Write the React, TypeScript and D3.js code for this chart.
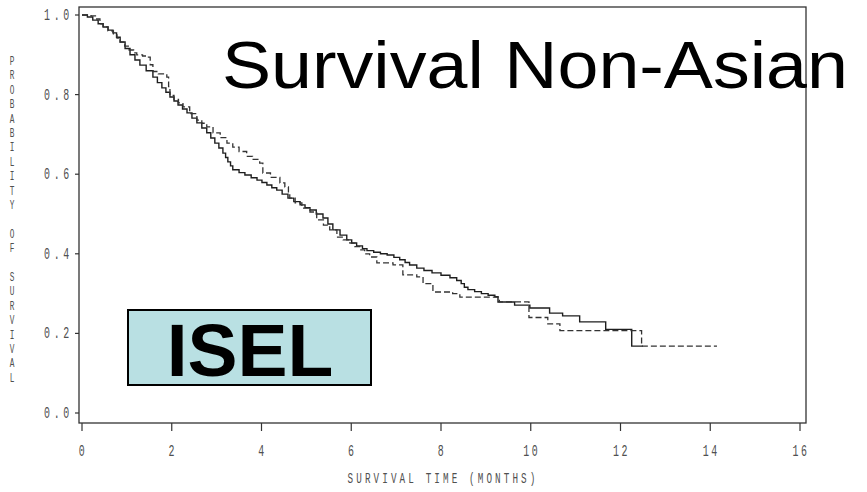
import React from "react";
import * as d3 from "d3";

// Kaplan-Meier estimates (months, survival)
const solidTimes = [0, 0.12, 0.24, 0.36, 0.47, 0.58, 0.69, 0.77, 0.85, 0.96, 1.07, 1.18, 1.29, 1.43, 1.58, 1.68, 1.78, 1.87, 1.96, 2.05, 2.14, 2.24, 2.34, 2.45, 2.56, 2.67, 2.78, 2.87, 2.96, 3.05, 3.14, 3.2, 3.25, 3.31, 3.36, 3.5, 3.63, 3.77, 3.9, 4.01, 4.12, 4.23, 4.34, 4.46, 4.59, 4.72, 4.86, 4.97, 5.08, 5.22, 5.37, 5.48, 5.59, 5.75, 5.9, 6.01, 6.12, 6.25, 6.35, 6.5, 6.65, 6.8, 6.95, 7.08, 7.2, 7.3, 7.46, 7.62, 7.8, 8.0, 8.2, 8.35, 8.45, 8.52, 8.6, 8.75, 8.9, 9.05, 9.2, 9.27, 9.64, 9.98, 10.42, 10.71, 11.09, 11.67, 12.25, 12.5];
const solidSurv = [1.0, 0.995, 0.987, 0.978, 0.97, 0.962, 0.955, 0.944, 0.932, 0.916, 0.9, 0.887, 0.874, 0.86, 0.844, 0.83, 0.817, 0.806, 0.794, 0.784, 0.774, 0.764, 0.754, 0.741, 0.729, 0.716, 0.704, 0.691, 0.678, 0.666, 0.653, 0.642, 0.631, 0.621, 0.611, 0.604, 0.598, 0.591, 0.585, 0.579, 0.573, 0.566, 0.56, 0.55, 0.54, 0.531, 0.523, 0.516, 0.51, 0.5, 0.49, 0.475, 0.46, 0.447, 0.435, 0.427, 0.42, 0.413, 0.408, 0.404, 0.4, 0.397, 0.391, 0.385, 0.378, 0.372, 0.364, 0.358, 0.352, 0.346, 0.34, 0.333, 0.325, 0.316, 0.31, 0.305, 0.3, 0.296, 0.292, 0.279, 0.271, 0.264, 0.251, 0.244, 0.229, 0.21, 0.168, 0.168];

const dashTimes = [0, 0.2, 0.3, 0.4, 0.47, 0.58, 0.7, 0.78, 0.85, 0.95, 1.05, 1.15, 1.22, 1.35, 1.45, 1.52, 1.58, 1.7, 1.89, 1.93, 1.96, 2.05, 2.15, 2.25, 2.4, 2.56, 2.67, 2.78, 2.92, 3.08, 3.23, 3.36, 3.5, 3.67, 3.8, 3.96, 4.03, 4.2, 4.41, 4.52, 4.6, 4.63, 4.75, 4.9, 5.08, 5.23, 5.38, 5.52, 5.68, 5.82, 5.97, 6.08, 6.19, 6.3, 6.41, 6.57, 6.93, 7.15, 7.46, 7.6, 7.82, 8.26, 8.42, 9.3, 9.96, 10.38, 10.65, 12.47, 14.15];
const dashSurv = [1.0, 0.998, 0.99, 0.978, 0.97, 0.96, 0.95, 0.942, 0.932, 0.922, 0.912, 0.905, 0.9, 0.897, 0.894, 0.875, 0.858, 0.852, 0.844, 0.82, 0.798, 0.788, 0.779, 0.769, 0.752, 0.736, 0.728, 0.719, 0.704, 0.692, 0.678, 0.668, 0.657, 0.645, 0.637, 0.628, 0.603, 0.592, 0.578, 0.568, 0.55, 0.54, 0.528, 0.515, 0.505, 0.485, 0.472, 0.46, 0.442, 0.435, 0.427, 0.418, 0.41, 0.4, 0.392, 0.377, 0.372, 0.347, 0.342, 0.325, 0.304, 0.3, 0.291, 0.279, 0.24, 0.224, 0.207, 0.168, 0.168];

const xTicks = [0, 2, 4, 6, 8, 10, 12, 14, 16];
const yTicks = [0, 0.2, 0.4, 0.6, 0.8, 1.0];
const yLabel = "PROBABILITY OF SURVIVAL";
const xLabel = "SURVIVAL TIME (MONTHS)";
const title = "Survival Non-Asian";
const badge = "ISEL";

const W = 867;
const H = 492;
const frame = { left: 79, right: 806, top: 7, bottom: 423 };
const mono = "'Liberation Mono', 'DejaVu Sans Mono', monospace";
const squeeze = 0.62;

// narrow, tall lettering like the old SAS device font
function SasText(props: {
  x: number;
  y: number;
  text: string;
  size: number;
  spacing?: number;
  anchor?: "start" | "middle" | "end";
}) {
  const { x, y, text, size, spacing = 0, anchor = "start" } = props;
  return (
    <g transform={`translate(${x},${y}) scale(${squeeze},1)`}>
      <text
        textAnchor={anchor}
        fontFamily={mono}
        fontSize={size}
        letterSpacing={spacing}
        fill="#505050"
      >
        {text}
      </text>
    </g>
  );
}

export default function App() {
  const x = d3.scaleLinear().domain([0, 16]).range([82, 800]);
  const y = d3.scaleLinear().domain([0, 1]).range([413, 15]);

  const line = d3
    .line<[number, number]>()
    .x((d) => x(d[0]))
    .y((d) => y(d[1]))
    .curve(d3.curveStepAfter);

  const solid = line(solidTimes.map((t, i) => [t, solidSurv[i]]));
  const dashed = line(dashTimes.map((t, i) => [t, dashSurv[i]]));

  return (
    <svg
      width={W}
      height={H}
      style={{ position: "absolute", left: 0, top: 0, background: "#fff" }}
    >
      {/* frame */}
      <rect
        x={frame.left}
        y={frame.top}
        width={frame.right - frame.left}
        height={frame.bottom - frame.top}
        fill="none"
        stroke="#333"
        strokeWidth={1.3}
      />

      {/* y axis */}
      {yTicks.map((v) => (
        <g key={v}>
          <line x1={frame.left - 4} x2={frame.left} y1={y(v)} y2={y(v)} stroke="#333" strokeWidth={1.2} />
          <SasText x={44} y={y(v) + 5} text={d3.format(".1f")(v)} size={16} spacing={6} />
        </g>
      ))}
      {/* stacked vertical label */}
      {yLabel.split("").map((c, i) =>
        c === " " ? null : (
          <SasText key={i} x={12} y={65 + i * 14.4} text={c} size={12.5} anchor="middle" />
        )
      )}

      {/* x axis */}
      {xTicks.map((v) => (
        <g key={v}>
          <line x1={x(v)} x2={x(v)} y1={frame.bottom} y2={frame.bottom + 8} stroke="#333" strokeWidth={1.2} />
          <SasText x={x(v) + 1} y={456} text={String(v)} size={16} spacing={4} anchor="middle" />
        </g>
      ))}
      <SasText x={443} y={483} text={xLabel} size={15} spacing={5} anchor="middle" />

      {/* curves */}
      <path d={solid ?? ""} fill="none" stroke="#1e1e1e" strokeWidth={1.4} />
      <path d={dashed ?? ""} fill="none" stroke="#333" strokeWidth={1.3} strokeDasharray="6,3" />

      {/* title */}
      <text
        x={222}
        y={88}
        fontFamily="'Liberation Sans', Arial, sans-serif"
        fontSize={66}
        textLength={626}
        lengthAdjust="spacingAndGlyphs"
        fill="#000"
      >
        {title}
      </text>

      {/* badge */}
      <rect x={128} y={310} width={243} height={75} fill="#b9e0e3" stroke="#000" strokeWidth={2} />
      <text
        x={250}
        y={376}
        textAnchor="middle"
        fontFamily="'Liberation Sans', Arial, sans-serif"
        fontWeight="bold"
        fontSize={75}
        fill="#000"
      >
        {badge}
      </text>
    </svg>
  );
}
